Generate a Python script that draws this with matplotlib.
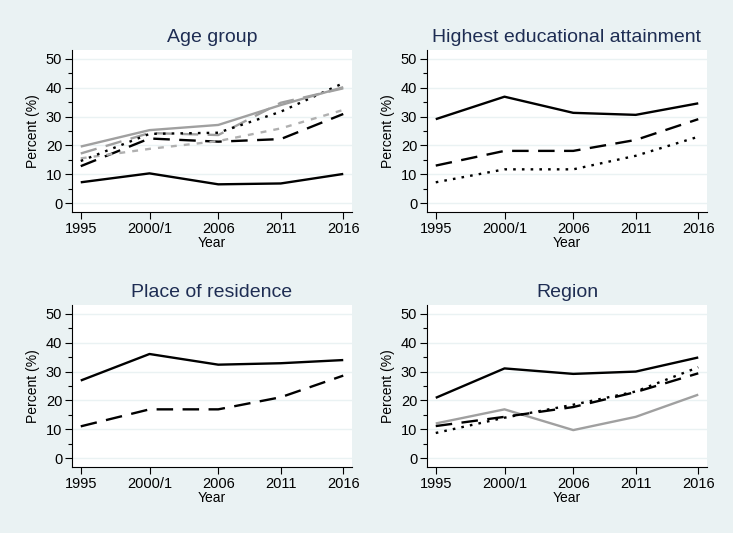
import matplotlib
matplotlib.use("Agg")
import matplotlib.pyplot as plt
from matplotlib.ticker import MultipleLocator

plt.rcParams["font.family"] = ["Liberation Sans", "DejaVu Sans"]

# x positions of the survey rounds (2000/1 sits half way through)
years = [1995, 2000.5, 2006, 2011, 2016]
year_labels = ["1995", "2000/1", "2006", "2011", "2016"]

# Age group
age_a = [7.2, 10.3, 6.5, 6.8, 10.1]
age_b = [19.6, 25.3, 27.1, 34.0, 40.2]
age_c = [17.2, 24.3, 23.6, 34.8, 39.8]
age_d = [14.6, 24.0, 24.4, 31.7, 41.6]
age_e = [12.8, 22.4, 21.3, 22.2, 30.9]
age_f = [15.5, 18.8, 21.5, 25.9, 32.3]

# Highest educational attainment
edu_a = [29.1, 36.9, 31.3, 30.6, 34.6]
edu_b = [13.0, 18.1, 18.1, 21.9, 29.1]
edu_c = [7.2, 11.7, 11.7, 16.4, 23.0]

# Place of residence
res_a = [26.9, 36.1, 32.4, 32.9, 34.0]
res_b = [11.0, 16.9, 16.9, 21.1, 28.6]

# Region
reg_a = [20.9, 31.1, 29.2, 30.0, 34.9]
reg_b = [12.0, 16.9, 9.7, 14.3, 22.0]
reg_c = [11.1, 14.3, 17.7, 22.9, 29.4]
reg_d = [8.7, 14.0, 18.5, 23.1, 31.5]

BG = "#eaf2f3"
TITLE = "#1e2d53"
solid = (0, ())
dash = (0, (7, 4))
dot = (0, (1.1, 2.6))
sdash = (0, (2.5, 3))

panels = [
    ("Age group", [
        (age_e, "black", dash),
        (age_f, "#b0b0b0", sdash),
        (age_c, "#a0a0a0", dash),
        (age_d, "black", dot),
        (age_b, "#a0a0a0", solid),
        (age_a, "black", solid),
    ]),
    ("Highest educational attainment", [
        (edu_a, "black", solid),
        (edu_b, "black", dash),
        (edu_c, "black", dot),
    ]),
    ("Place of residence", [
        (res_a, "black", solid),
        (res_b, "black", dash),
    ]),
    ("Region", [
        (reg_a, "black", solid),
        (reg_b, "#a0a0a0", solid),
        (reg_c, "black", dash),
        (reg_d, "black", dot),
    ]),
]

W, H = 733, 533
fig = plt.figure(figsize=(W / 100, H / 100), dpi=100, facecolor=BG)

# pixel boxes: left, top, right, bottom
boxes = [(72, 50, 352, 212), (427, 50, 707, 212),
         (72, 305, 352, 467), (427, 305, 707, 467)]

for (title, lines), (l, t, r, b) in zip(panels, boxes):
    ax = fig.add_axes([l / W, 1 - b / H, (r - l) / W, (b - t) / H])
    ax.set_facecolor("white")
    for vals, col, ls in lines:
        ax.plot(years, vals, color=col, linestyle=ls, linewidth=1.7)
    ax.set_xlim(1994.3, 2016.7)
    ax.set_ylim(-3.1, 53.1)
    ax.set_xticks(years)
    ax.set_xticklabels(year_labels)
    ax.yaxis.set_major_locator(MultipleLocator(10))
    ax.yaxis.set_minor_locator(MultipleLocator(5))
    ax.grid(axis="y", which="major", color=BG, linewidth=1)
    ax.set_axisbelow(True)
    for s in ["top", "right"]:
        ax.spines[s].set_visible(False)
    for s in ["left", "bottom"]:
        ax.spines[s].set_color("black")
        ax.spines[s].set_linewidth(0.8)
    ax.tick_params(axis="both", which="major", length=5, width=0.8,
                   labelsize=10.5, pad=2)
    ax.tick_params(axis="y", which="minor", length=3, width=0.8)
    ax.set_ylabel("Percent (%)", fontsize=10, labelpad=4)
    ax.set_xlabel("Year", fontsize=10, labelpad=0)
    ax.set_title(title, fontsize=14, color=TITLE, pad=6)

fig.savefig("out.png", dpi=100, facecolor=BG)
